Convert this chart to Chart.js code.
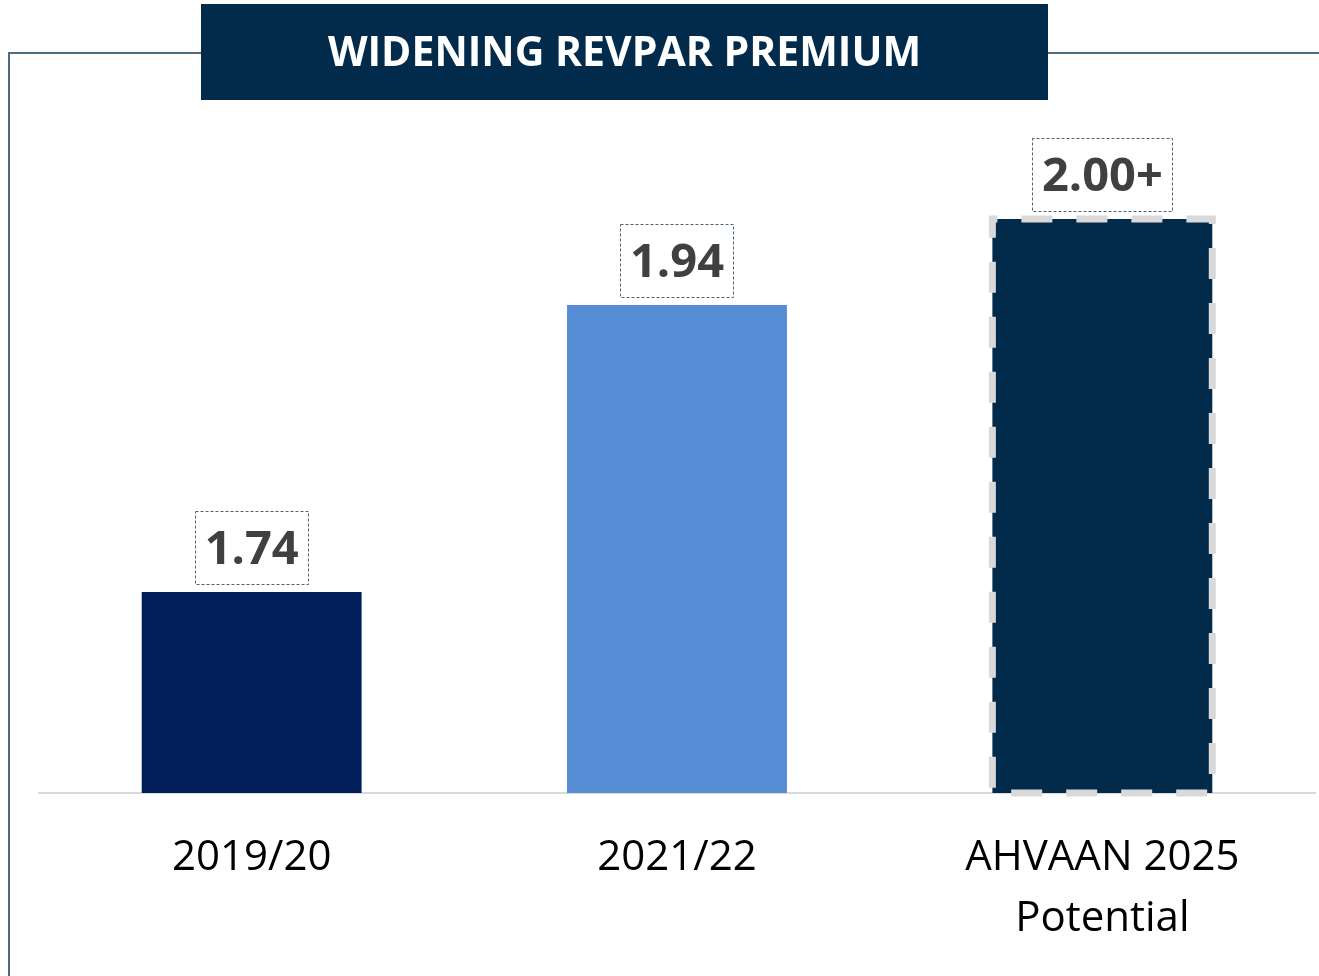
<!DOCTYPE html>
<html>
<head>
<meta charset="utf-8">
<script src="https://cdn.jsdelivr.net/npm/chart.js@4"></script>
<style>
  html, body { margin:0; padding:0; background:#fff; }
  #wrap { width:1319px; height:976px; }
</style>
</head>
<body>
<div id="wrap"><canvas id="chart" width="1319" height="976"></canvas></div>
<script>
// ── Data ─────────────────────────────────────────────────────
const TITLE       = 'WIDENING REVPAR PREMIUM';
const categories  = [['2019/20'], ['2021/22'], ['AHVAAN 2025', 'Potential']];
const values      = [1.74, 1.94, 2.00];
const valueLabels = ['1.74', '1.94', '2.00+'];
const dashedBars  = [false, false, true];

const C = {
  bars:   ['#021E5B', '#558ED5', '#022A4A'],
  title:  '#022A4A',
  frame:  '#506A80',
  axis:   '#D9D9D9',
  label:  '#404040',
  box:    '#4E6378',
  tick:   '#000000',
};
const FONT = '"Open Sans", "DejaVu Sans", sans-serif';

// ── Frame + title banner ─────────────────────────────────────
const framePlugin = {
  id: 'frame',
  beforeDraw(chart) {
    const ctx = chart.ctx;
    ctx.save();
    ctx.fillStyle = '#fff';
    ctx.fillRect(0, 0, chart.width, chart.height);
    ctx.strokeStyle = C.frame;
    ctx.lineWidth = 2;
    ctx.beginPath();
    ctx.moveTo(9, chart.height);
    ctx.lineTo(9, 53);
    ctx.lineTo(chart.width, 53);
    ctx.stroke();
    ctx.fillStyle = C.title;
    ctx.fillRect(201, 4, 847, 96);
    ctx.fillStyle = '#fff';
    ctx.font = `bold 41px ${FONT}`;
    ctx.textAlign = 'center';
    ctx.textBaseline = 'middle';
    ctx.fillText(TITLE, 624.5, 54);
    ctx.restore();
  }
};

// ── Dashed outline + boxed value labels ──────────────────────
const labelPlugin = {
  id: 'valueLabels',
  afterDatasetsDraw(chart) {
    const ctx = chart.ctx;
    const meta = chart.getDatasetMeta(0);
    const floor = chart.chartArea.bottom;
    ctx.save();
    meta.data.forEach((bar, i) => {
      const { x, y, width } = bar.getProps(['x', 'y', 'width'], true);
      if (dashedBars[i]) {
        ctx.strokeStyle = C.axis;
        ctx.lineWidth = 7;
        ctx.setLineDash([31, 24]);
        ctx.lineDashOffset = 26;
        ctx.strokeRect(x - width / 2, y, width, floor - y);
        ctx.setLineDash([]);
      }
      ctx.font = `bold 47px ${FONT}`;
      const tw = ctx.measureText(valueLabels[i]).width;
      const bw = tw + 19, bh = 73;
      const bottom = y - 8;
      ctx.strokeStyle = C.box;
      ctx.lineWidth = 1;
      ctx.setLineDash([3, 2]);
      ctx.strokeRect(Math.round(x - bw / 2) + 0.5, Math.round(bottom - bh) + 0.5, Math.round(bw), bh);
      ctx.setLineDash([]);
      ctx.fillStyle = C.label;
      ctx.textAlign = 'center';
      ctx.textBaseline = 'middle';
      ctx.fillText(valueLabels[i], x, bottom - bh / 2 + 3);
    });
    ctx.restore();
  }
};

new Chart(document.getElementById('chart'), {
  type: 'bar',
  data: {
    labels: categories,
    datasets: [{
      data: values,
      backgroundColor: C.bars,
      borderWidth: 0,
      barPercentage: 0.517,
      categoryPercentage: 1,
    }]
  },
  options: {
    responsive: false,
    animation: false,
    layout: { padding: { top: 75.5, left: 39, right: 4, bottom: 0 } },
    plugins: { legend: { display: false }, tooltip: { enabled: false } },
    scales: {
      x: {
        grid: { display: false },
        border: { display: true, color: C.axis, width: 2 },
        ticks: { color: C.tick, padding: 27, font: { family: FONT, size: 42, lineHeight: 1.44 }, maxRotation: 0 },
        afterFit: s => { s.height = 183; },
      },
      y: {
        display: false,
        min: 1.6,
        max: 2.1,
      }
    }
  },
  plugins: [framePlugin, labelPlugin]
});
</script>
</body>
</html>
